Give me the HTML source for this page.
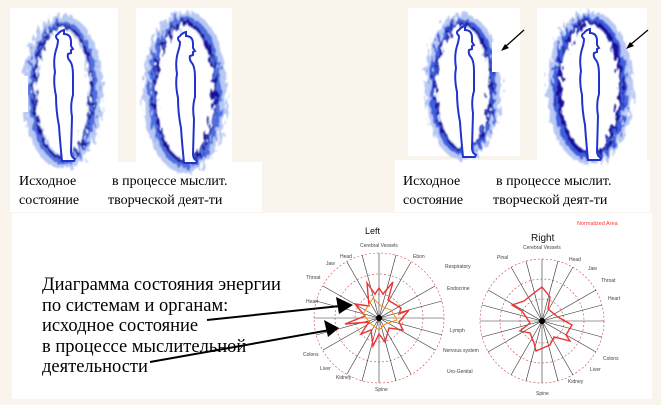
<!DOCTYPE html>
<html><head><meta charset="utf-8"><style>
html,body{margin:0;padding:0;background:#f9f5ec;width:661px;height:405px;overflow:hidden}
svg{display:block}
.t{font-family:"Liberation Serif","Noto Serif CJK SC",serif;fill:#000}
.s{font-family:"Liberation Sans",sans-serif;fill:#444;font-size:5px}
</style></head><body>
<svg width="661" height="405" viewBox="0 0 661 405" xmlns="http://www.w3.org/2000/svg">
<defs>
<filter id="b" x="-30%" y="-20%" width="160%" height="140%"><feTurbulence type="fractalNoise" baseFrequency="0.3 0.12" numOctaves="2" seed="5"/><feDisplacementMap in="SourceGraphic" scale="14"/><feGaussianBlur stdDeviation="0.7"/></filter>
<g id="body"><path d="M0,-62 q7,0 7,8 l0,4 2,3 -2,1 0,3 -3,1 q-1,4 2,7 q3,4 3,14 l0,20 q-3,10 -1,22 l-1,35 q0,5 4,7 l-1,2 -12,0 q-2,-20 -3,-35 q-3,-15 -3,-30 q-3,-14 -1,-24 q-2,-12 1,-22 q2,-6 2,-10 q-4,-4 0,-6 q2,-3 6,-4z" fill="#fff" stroke="#2233cc" stroke-width="2"/></g>
</defs>
<!-- panels -->
<rect x="10" y="8" width="108" height="154" fill="#fff"/>
<rect x="136" y="8" width="96" height="155" fill="#fff"/>
<rect x="10" y="162" width="252" height="50" fill="#fff"/>
<rect x="408" y="8" width="112" height="148" fill="#fff"/>
<rect x="537" y="8" width="110" height="152" fill="#fff"/>
<rect x="395" y="160" width="255" height="52" fill="#fff"/>
<rect x="12" y="213" width="640" height="186" fill="#fff"/>
<!-- auras -->
<g filter="url(#b)" fill="none">
<ellipse cx="63" cy="92" rx="33" ry="70" stroke="#9ab0f0" stroke-width="14" opacity=".7"/>
<ellipse cx="63" cy="92" rx="31" ry="68" stroke="#4466dd" stroke-width="6" opacity=".9"/>
<ellipse cx="63" cy="92" rx="29" ry="66" stroke="#1a0d99" stroke-width="2.5"/>
<ellipse cx="185" cy="92" rx="35" ry="74" stroke="#9ab0f0" stroke-width="14" opacity=".7"/>
<ellipse cx="185" cy="92" rx="33" ry="72" stroke="#4466dd" stroke-width="7" opacity=".9"/>
<ellipse cx="185" cy="92" rx="30" ry="69" stroke="#1a0d99" stroke-width="3"/>
<ellipse cx="463" cy="87" rx="32" ry="67" stroke="#9ab0f0" stroke-width="12" opacity=".7"/>
<ellipse cx="463" cy="87" rx="30" ry="65" stroke="#3355dd" stroke-width="6" opacity=".9"/>
<ellipse cx="463" cy="87" rx="28" ry="63" stroke="#1a0d99" stroke-width="2.5"/>
<ellipse cx="590" cy="88" rx="36" ry="70" stroke="#9ab0f0" stroke-width="14" opacity=".7"/>
<ellipse cx="590" cy="88" rx="33" ry="68" stroke="#3355dd" stroke-width="8" opacity=".9"/>
<ellipse cx="590" cy="88" rx="31" ry="66" stroke="#1a0d99" stroke-width="4"/>
</g>
<rect x="10" y="76" width="18" height="36" fill="#fff"/>
<rect x="492" y="42" width="28" height="30" fill="#fff"/>
<use href="#body" transform="translate(64,96)"/>
<use href="#body" transform="translate(186,98)"/>
<use href="#body" transform="translate(465,92)"/>
<use href="#body" transform="translate(590,95)"/>
<path d="M524,30 L505,47" stroke="#000" stroke-width="1.3"/><path d="M501,51 l8,-3 -4,-4z" fill="#000"/>
<path d="M648,30 L630,45" stroke="#000" stroke-width="1.3"/><path d="M626,49 l8,-3 -4,-4z" fill="#000"/>
<!-- captions -->
<g class="t" font-size="14">
<text x="19" y="185">Исходное</text><text x="112" y="185">в процессе мыслит.</text>
<text x="19" y="204">состояние</text><text x="108" y="204">творческой деят-ти</text>
<text x="403" y="185">Исходное</text><text x="496" y="185">в процессе мыслит.</text>
<text x="403" y="204">состояние</text><text x="493" y="204">творческой деят-ти</text>
</g>
<!-- polar charts -->
<g fill="none" stroke-width=".6">
<g transform="translate(379,318)">
<circle r="65" stroke="#c44" stroke-dasharray="2 2"/><circle r="44" stroke="#c44" stroke-dasharray="2 2"/><circle r="24" stroke="#c44" stroke-dasharray="2 2"/>
<g stroke="#333"><path d="M0,-65V65M-65,0H65M-56,-32L56,32M-56,32L56,-32M-32,-56L32,56M-32,56L32,-56M-17,-63L17,63M17,-63L-17,63M-63,-17L63,17M-63,17L63,-17"/></g>
<path d="M-12,-35 L-4,-24 L0,-30 L4,-24 L14,-36 L9,-18 L22,-10 L20,-4 L30,-8 L20,4 L24,12 L10,10 L6,24 L0,16 L-6,28 L-8,12 L-18,16 L-10,4 L-34,6 L-14,-2 L-24,-14 L-10,-12 z" stroke="#e33" stroke-width="1.4"/>
<path d="M-6,-20 L2,-12 L12,-8 L18,2 L6,6 L0,12 L-8,6 L-16,-4 z" stroke="#f80" stroke-width="1"/>
<circle r="3" fill="#000"/>
</g>
<g transform="translate(542,321)">
<circle r="62" stroke="#c44" stroke-dasharray="2 2"/><circle r="42" stroke="#c44" stroke-dasharray="2 2"/><circle r="22" stroke="#c44" stroke-dasharray="2 2"/>
<g stroke="#333"><path d="M0,-62V62M-62,0H62M-54,-31L54,31M-54,31L54,-31M-31,-54L31,54M-31,54L31,-54M-16,-60L16,60M16,-60L-16,60M-60,-16L60,16M-60,16L60,-16"/></g>
<path d="M0,-34 L8,-24 L6,-12 L16,-4 L30,4 L24,14 L28,20 L12,16 L8,24 L-6,30 L-8,22 L-12,12 L-22,10 L-12,2 L-20,-10 L-30,-16 L-18,-20 L-8,-28 z" stroke="#e33" stroke-width="1.4"/>
<circle r="3" fill="#000"/>
</g>
</g>
<text x="365" y="234" font-family="Liberation Sans,sans-serif" font-size="9" fill="#111">Left</text>
<text x="531" y="241" font-family="Liberation Sans,sans-serif" font-size="10" fill="#111">Right</text>
<text x="577" y="225" font-family="Liberation Sans,sans-serif" font-size="5.5" fill="#f33">Normalized Area</text>
<g class="s">
<text x="360" y="247">Cerebral Vessels</text><text x="413" y="258">Ebon</text><text x="445" y="268">Respiratory</text><text x="447" y="290">Endocrine</text><text x="450" y="332">Lymph</text><text x="443" y="352">Nervous system</text><text x="447" y="373">Uro-Genital</text>
<text x="340" y="258">Head</text><text x="326" y="265">Jaw</text><text x="306" y="279">Throat</text><text x="306" y="303">Heart</text><text x="303" y="356">Colons</text><text x="320" y="370">Liver</text><text x="336" y="379">Kidney</text><text x="375" y="391">Spine</text>
<text x="523" y="249">Cerebral Vessels</text><text x="497" y="259">Pinal</text><text x="569" y="261">Head</text><text x="588" y="270">Jaw</text><text x="601" y="282">Throat</text><text x="608" y="300">Heart</text><text x="603" y="360">Colons</text><text x="590" y="371">Liver</text><text x="568" y="383">Kidney</text><text x="536" y="395">Spine</text>
</g>
<!-- label text -->
<g class="t" font-size="18.5">
<text x="42" y="290">Диаграмма состояния энергии</text>
<text x="42" y="311">по системам и органам:</text>
<text x="42" y="331">исходное состояние</text>
<text x="42" y="352">в процессе мыслительной</text>
<text x="42" y="372">деятельности</text>
</g>
<path d="M207,320 L340,306" stroke="#000" stroke-width="2"/>
<path d="M353,305 L336,297 L339,314z" fill="#000"/>
<path d="M150,362 L330,330" stroke="#000" stroke-width="2"/>
<path d="M339,328 L324,320 L328,337z" fill="#000"/>
</svg>
</body></html>
